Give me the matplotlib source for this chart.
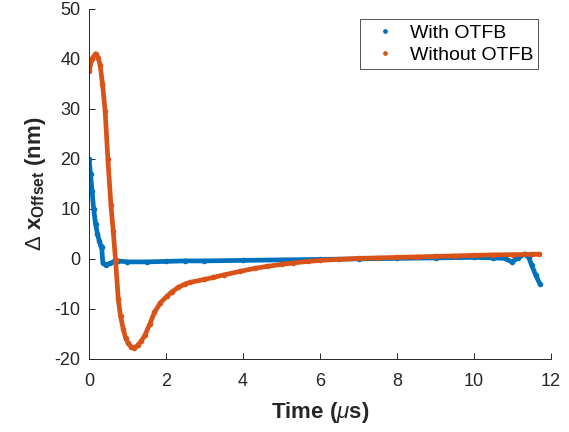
import matplotlib
matplotlib.use("Agg")
import matplotlib.pyplot as plt

plt.rcParams['font.family'] = ['Liberation Sans', 'DejaVu Sans']
plt.rcParams['mathtext.fontset'] = 'custom'
plt.rcParams['mathtext.rm'] = 'Liberation Sans'
plt.rcParams['mathtext.it'] = 'Liberation Sans:italic'
plt.rcParams['mathtext.bf'] = 'Liberation Sans:bold'
plt.rcParams['axes.unicode_minus'] = False

# offset with the one-turn feedback switched on
t_with = [0, 0.04, 0.08, 0.12, 0.17, 0.22, 0.27, 0.31, 0.33, 0.36, 0.45, 0.55,
          0.65, 0.75, 1.0, 1.5, 2.0, 2.5, 3, 4, 5, 6, 7, 8, 9, 10, 10.5, 10.8,
          10.98, 11.15, 11.32, 11.42, 11.5, 11.6, 11.71]
y_with = [20, 17, 13.5, 10, 7, 5, 3.5, 2.5, 2.3, -0.8, -1.2, -0.9,
          -0.5, -0.4, -0.6, -0.6, -0.5, -0.4, -0.4, -0.3, -0.2, -0.1, 0, 0.1, 0.2, 0.3, 0.2, 0.1,
          -0.6, 0.2, 1.0, 0.3, -1.3, -3.2, -5]

# offset without feedback
t_wo = [0, 0.08, 0.17, 0.24, 0.29, 0.35, 0.42, 0.49, 0.57, 0.63, 0.69, 0.76,
        0.82, 0.89, 0.95, 1.02, 1.1, 1.18, 1.26, 1.35, 1.45, 1.58, 1.7, 1.85,
        2.02, 2.15, 2.32, 2.5, 2.62, 3.0, 3.23, 3.5, 3.92, 4.3, 4.62, 5.0,
        5.31, 5.7, 6.0, 6.5, 7.0, 7.5, 8, 8.5, 9, 9.5, 10, 10.5, 11, 11.5, 11.7]
y_wo = [37.5, 40, 41, 40.2, 38.7, 35, 29.5, 20, 10.7, 5.5, -0.3, -8,
        -11.5, -14, -15.8, -16.9, -17.6, -17.8, -17.3, -16.5, -15.3, -13, -10.7, -8.8,
        -7.5, -6.6, -5.7, -5, -4.7, -4.1, -3.7, -3.2, -2.5, -1.9, -1.5, -1.1,
        -0.8, -0.5, -0.3, -0.1, 0.1, 0.2, 0.3, 0.4, 0.5, 0.6, 0.7, 0.8, 0.85, 0.9, 0.95]

blue = '#0072BD'
orange = '#D95319'
axcol = '#262626'

fig = plt.figure(figsize=(5.69, 4.32), dpi=100)
ax = fig.add_axes([0.1564, 0.169, 0.812, 0.811])

ax.plot(t_with, y_with, '-', color=blue, lw=3.4, solid_capstyle='round')
ax.plot(t_with, y_with, '.', color=blue, ms=6, label='With OTFB')
ax.plot(t_wo, y_wo, '-', color=orange, lw=3.4, solid_capstyle='round')
ax.plot(t_wo, y_wo, '.', color=orange, ms=6, label='Without OTFB')

ax.set_xlim(0, 12)
ax.set_ylim(-20, 50)
ax.set_xticks(range(0, 13, 2))
ax.set_yticks(range(-20, 51, 10))
for s in ['top', 'right']:
    ax.spines[s].set_visible(False)
for s in ['left', 'bottom']:
    ax.spines[s].set_color(axcol)
    ax.spines[s].set_linewidth(0.7)
ax.tick_params(direction='in', length=4, width=0.7, colors=axcol, labelsize=13)
ax.tick_params(axis='x', pad=10)
ax.tick_params(axis='y', pad=6)

ax.set_xlabel(r'Time ($\mu$s)', fontsize=16, fontweight='bold', color=axcol, labelpad=7)
ax.set_ylabel(r'$\Delta$ $\mathbf{x_{Offset}}$ (nm)', fontsize=16,
              fontweight='bold', color=axcol, labelpad=5)

leg = ax.legend(loc='upper right', bbox_to_anchor=(0.972, 0.97), fontsize=14,
                frameon=True, fancybox=False, edgecolor='#262626',
                handlelength=2.0, handletextpad=0.3, markerscale=0.8,
                borderpad=0.25, labelspacing=0.25, borderaxespad=0)
leg.get_frame().set_linewidth(0.7)

fig.savefig('out.png', dpi=100)
